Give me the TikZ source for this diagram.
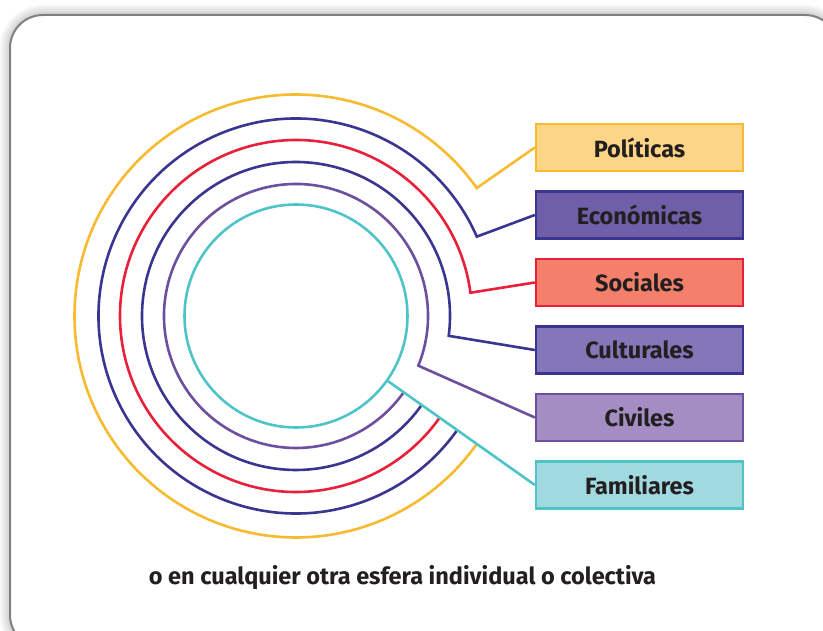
\documentclass[tikz,border=0pt]{standalone}
\usepackage{fontspec}
\setmainfont{Fira Sans}
\usetikzlibrary{calc}
\definecolor{txt}{HTML}{231F20}
\definecolor{yel}{HTML}{F8BA31}
\definecolor{yelF}{HTML}{FDD587}
\definecolor{dblue}{HTML}{3B3592}
\definecolor{ecoF}{HTML}{6E5FA8}
\definecolor{red}{HTML}{E8213A}
\definecolor{redF}{HTML}{F4806B}
\definecolor{culF}{HTML}{8377B9}
\definecolor{purp}{HTML}{6D4FA0}
\definecolor{civF}{HTML}{A38DC3}
\definecolor{teal}{HTML}{4EC4C8}
\definecolor{tealF}{HTML}{A0D9E0}
\definecolor{frame}{HTML}{808080}
\tikzset{
  lbl/.style={draw=#1, line width=2.4pt, minimum width=207pt, minimum height=47pt,
    inner sep=0pt, font=\bfseries\fontsize{23.5}{28}\selectfont, text=txt},
  ring/.style={draw=#1, line width=2.6pt},
}
\begin{document}
\begin{tikzpicture}[x=1pt,y=1pt]
\useasboundingbox (0,0) rectangle (823,630);
% frame shadow
\foreach \w in {20,16,12,8,5}{
  \draw[line width=\w pt, black, opacity=0.035, rounded corners=33pt] (10,615) rectangle (838,-18);
}
\fill[white, rounded corners=33pt] (10,615) rectangle (838,-18);
\draw[frame, line width=2pt, rounded corners=33pt] (10,615) rectangle (838,-18);

\coordinate (C) at (296,314);
% boxes
\node[lbl=yel, fill=yelF] (pol) at (639.5,482.5) {Políticas};
\node[lbl=dblue, fill=ecoF] (eco) at (639.5,415) {Económicas};
\node[lbl=red, fill=redF] (soc) at (639.5,347.5) {Sociales};
\node[lbl=dblue, fill=culF] (cul) at (639.5,280) {Culturales};
\node[lbl=purp, fill=civF] (civ) at (639.5,212.5) {Civiles};
\node[lbl=teal, fill=tealF] (fam) at (639.5,145) {Familiares};

% rings
\coordinate (p1) at ($(C)+(35.3:221.5)$);
\coordinate (p2) at ($(C)+(23.7:197.5)$);
\coordinate (p3) at ($(C)+(7.6:176)$);
\coordinate (p4) at ($(C)+(-7.4:154)$);
\coordinate (p5) at ($(C)+(-22.1:132)$);
\coordinate (p6) at ($(C)+(-35.3:111.5)$);
\draw[ring=yel] (pol.west) -- (p1) arc[start angle=35.3, end angle=324.7, radius=221.5];
\draw[ring=dblue] (eco.west) -- (p2) arc[start angle=23.7, end angle=324.7, radius=197.5];
\draw[ring=red] (soc.west) -- (p3) arc[start angle=7.6, end angle=324.7, radius=176];
\draw[ring=dblue] (cul.west) -- (p4) arc[start angle=-7.4, end angle=324.7, radius=154];
\draw[ring=purp] (civ.west) -- (p5) arc[start angle=-22.1, end angle=324.7, radius=132];
\draw[ring=teal] (C) circle[radius=111.5];
\draw[ring=teal] (fam.west) -- (p6);

\node[font=\bfseries\fontsize{23.5}{28}\selectfont, text=txt] (note) at (402.5,52) {o en cualquier otra esfera individual o colectiva};
\end{tikzpicture}
\end{document}
